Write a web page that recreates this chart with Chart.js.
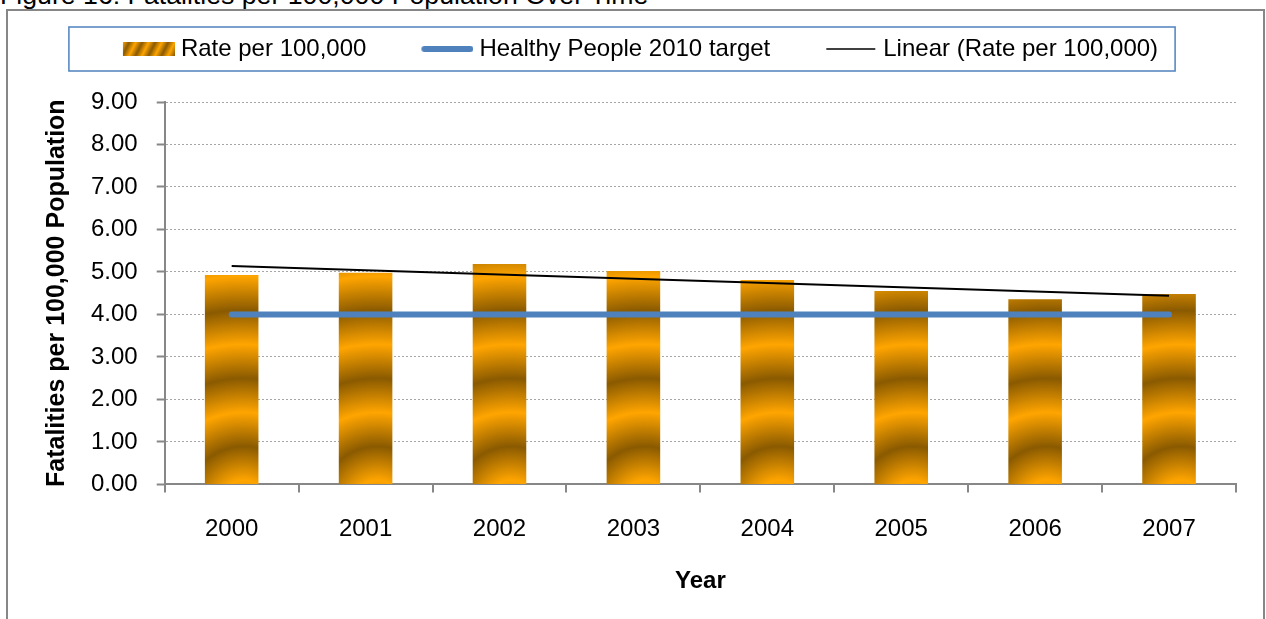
<!DOCTYPE html>
<html>
<head>
<meta charset="utf-8">
<script src="https://cdn.jsdelivr.net/npm/chart.js@4.4.1/dist/chart.umd.min.js"></script>
<style>
  html, body { margin: 0; padding: 0; background: #fff; overflow: hidden; }
  body { width: 1266px; height: 619px; position: relative; }
  #figTitle {
    position: absolute; left: 0; top: -18px;
    font: 26.7px "Liberation Sans", Arial, sans-serif; line-height: 1; color: #000;
    white-space: nowrap;
  }
  #frame {
    position: absolute; left: 6px; top: 9px; width: 1255px; height: 700px;
    border: 2px solid #878787;
  }
  #chart { position: absolute; left: 0; top: 0; }
</style>
</head>
<body>
<div id="figTitle">Figure 16: Fatalities per 100,000 Population Over Time</div>
<div id="frame"></div>
<canvas id="chart" width="1266" height="619"></canvas>
<script>
// Datos
const years       = ['2000', '2001', '2002', '2003', '2004', '2005', '2006', '2007'];
const ratePer100k = [4.93, 4.98, 5.19, 5.02, 4.81, 4.55, 4.36, 4.48];
const hpTarget    = [4.00, 4.00, 4.00, 4.00, 4.00, 4.00, 4.00, 4.00];
// tendencia lineal: solo los extremos
const linearTrend = [5.14, null, null, null, null, null, null, 4.44];

const seriesNames = ['Rate per 100,000', 'Healthy People 2010 target', 'Linear (Rate per 100,000)'];

const FONT = '"Liberation Sans", Arial, sans-serif';
const ORANGE = '#FFA500';
const BROWN  = '#8A5A00';
const BLUE   = '#4F81BD';
const AXIS   = '#878787';

Chart.defaults.font.family = FONT;
Chart.defaults.color = '#000';

// Relleno tipo "madera" de las barras (anillos centrados bajo cada barra)
function woodFill(c) {
    const chart = c.chart;
    const { ctx, scales } = chart;
    if (!chart.chartArea || c.dataIndex === undefined || !scales.x) return '#C88A10';
    const x = scales.x.getPixelForValue(c.dataIndex);
    const base = scales.y.getPixelForValue(0);
    const cx = x + 12, cy = base + 20, R = 340;
    const g = ctx.createRadialGradient(cx, cy, 0, cx, cy, R);
    g.addColorStop(0, '#C98400');
    for (let r = 24; r < R; r += 68) {
        g.addColorStop(r / R, ORANGE);
        if (r + 34 < R) g.addColorStop((r + 34) / R, BROWN);
    }
    return g;
}

// Muestras de la leyenda (lienzo de 103px, contenido en los 52px de la derecha)
function makeSwatch(kind) {
    const cv = document.createElement('canvas');
    cv.width = 103; cv.height = 14;
    const c = cv.getContext('2d');
    if (kind === 'bar') {
        const g = c.createLinearGradient(51, 0, 103, 26);
        for (let i = 0; i <= 10; i++) g.addColorStop(i / 10, i % 2 ? BROWN : ORANGE);
        c.fillStyle = g;
        c.fillRect(51, 0, 52, 14);
    } else if (kind === 'target') {
        c.strokeStyle = BLUE; c.lineWidth = 6; c.lineCap = 'round';
        c.beginPath(); c.moveTo(54, 7); c.lineTo(100, 7); c.stroke();
    } else {
        c.strokeStyle = '#000'; c.lineWidth = 1.5;
        c.beginPath(); c.moveTo(52, 7); c.lineTo(101, 7); c.stroke();
    }
    return cv;
}
const swatches = [makeSwatch('bar'), makeSwatch('target'), makeSwatch('trend')];

// Espacio extra bajo la leyenda + desplazamiento horizontal + marco azul
const legendTweaks = {
    id: 'legendTweaks',
    beforeInit(chart) {
        const origFit = chart.legend.fit;
        chart.legend.fit = function () { origFit.call(this); this.height += 31; };
    },
    afterLayout(chart) {
        chart.legend.left -= 16;
        chart.legend.right -= 16;
    },
    afterDraw(chart) {
        const hb = chart.legend.legendHitBoxes;
        if (!hb || !hb.length) return;
        const first = hb[0], last = hb[hb.length - 1];
        const ctx = chart.ctx;
        ctx.save();
        ctx.strokeStyle = BLUE;
        ctx.lineWidth = 1.5;
        const l = first.left - 9, r = last.left + last.width + 17;
        const t = first.top - 10, b = first.top + first.height + 10;
        ctx.strokeRect(l, t, r - l, b - t);
        ctx.restore();
    }
};

new Chart(document.getElementById('chart'), {
    data: {
        labels: years,
        datasets: [
            {
                type: 'bar',
                label: seriesNames[0],
                data: ratePer100k,
                backgroundColor: woodFill,
                borderWidth: 0,
                barPercentage: 0.40,
                categoryPercentage: 1.0,
                order: 3
            },
            {
                type: 'line',
                label: seriesNames[1],
                data: hpTarget,
                borderColor: BLUE,
                borderWidth: 6,
                borderCapStyle: 'round',
                pointRadius: 0,
                fill: false,
                order: 2
            },
            {
                type: 'line',
                label: seriesNames[2],
                data: linearTrend,
                borderColor: '#000',
                borderWidth: 2,
                pointRadius: 0,
                spanGaps: true,
                fill: false,
                order: 1
            }
        ]
    },
    options: {
        responsive: false,
        animation: false,
        layout: { padding: { left: 32, right: 30, top: 27, bottom: 23 } },
        plugins: {
            tooltip: { enabled: false },
            legend: {
                position: 'top',
                labels: {
                    usePointStyle: true,
                    pointStyleWidth: 91,
                    padding: 10,
                    font: { size: 24 },
                    color: '#000',
                    generateLabels: () => seriesNames.map((name, i) => ({
                        text: name,
                        pointStyle: swatches[i],
                        fillStyle: 'rgba(0,0,0,0)',
                        strokeStyle: 'rgba(0,0,0,0)',
                        lineWidth: 0,
                        datasetIndex: i,
                        hidden: false
                    }))
                }
            }
        },
        scales: {
            x: {
                offset: true,
                grid: {
                    offset: true,
                    drawOnChartArea: false,
                    drawTicks: true,
                    tickLength: 8,
                    color: AXIS,
                    lineWidth: 2
                },
                border: { color: AXIS, width: 2 },
                ticks: { font: { size: 24 }, color: '#000', padding: 23, maxRotation: 0 },
                title: {
                    display: true,
                    text: 'Year',
                    font: { size: 24, weight: 'bold' },
                    color: '#000',
                    padding: { top: 0, bottom: 0 }
                }
            },
            y: {
                min: 0,
                max: 9,
                ticks: {
                    stepSize: 1,
                    callback: v => Number(v).toFixed(2),
                    font: { size: 24 },
                    color: '#000',
                    padding: 19
                },
                grid: {
                    color: '#A6A6A6',
                    lineWidth: 1,
                    tickColor: AXIS,
                    tickWidth: 2,
                    tickLength: 8,
                    tickBorderDash: []
                },
                border: { color: AXIS, width: 2, dash: [2, 2] },
                title: {
                    display: true,
                    text: 'Fatalities per 100,000 Population',
                    font: { size: 25, weight: 'bold' },
                    color: '#000',
                    padding: { top: 10, bottom: 0 }
                }
            }
        }
    },
    plugins: [legendTweaks]
});
</script>
</body>
</html>
